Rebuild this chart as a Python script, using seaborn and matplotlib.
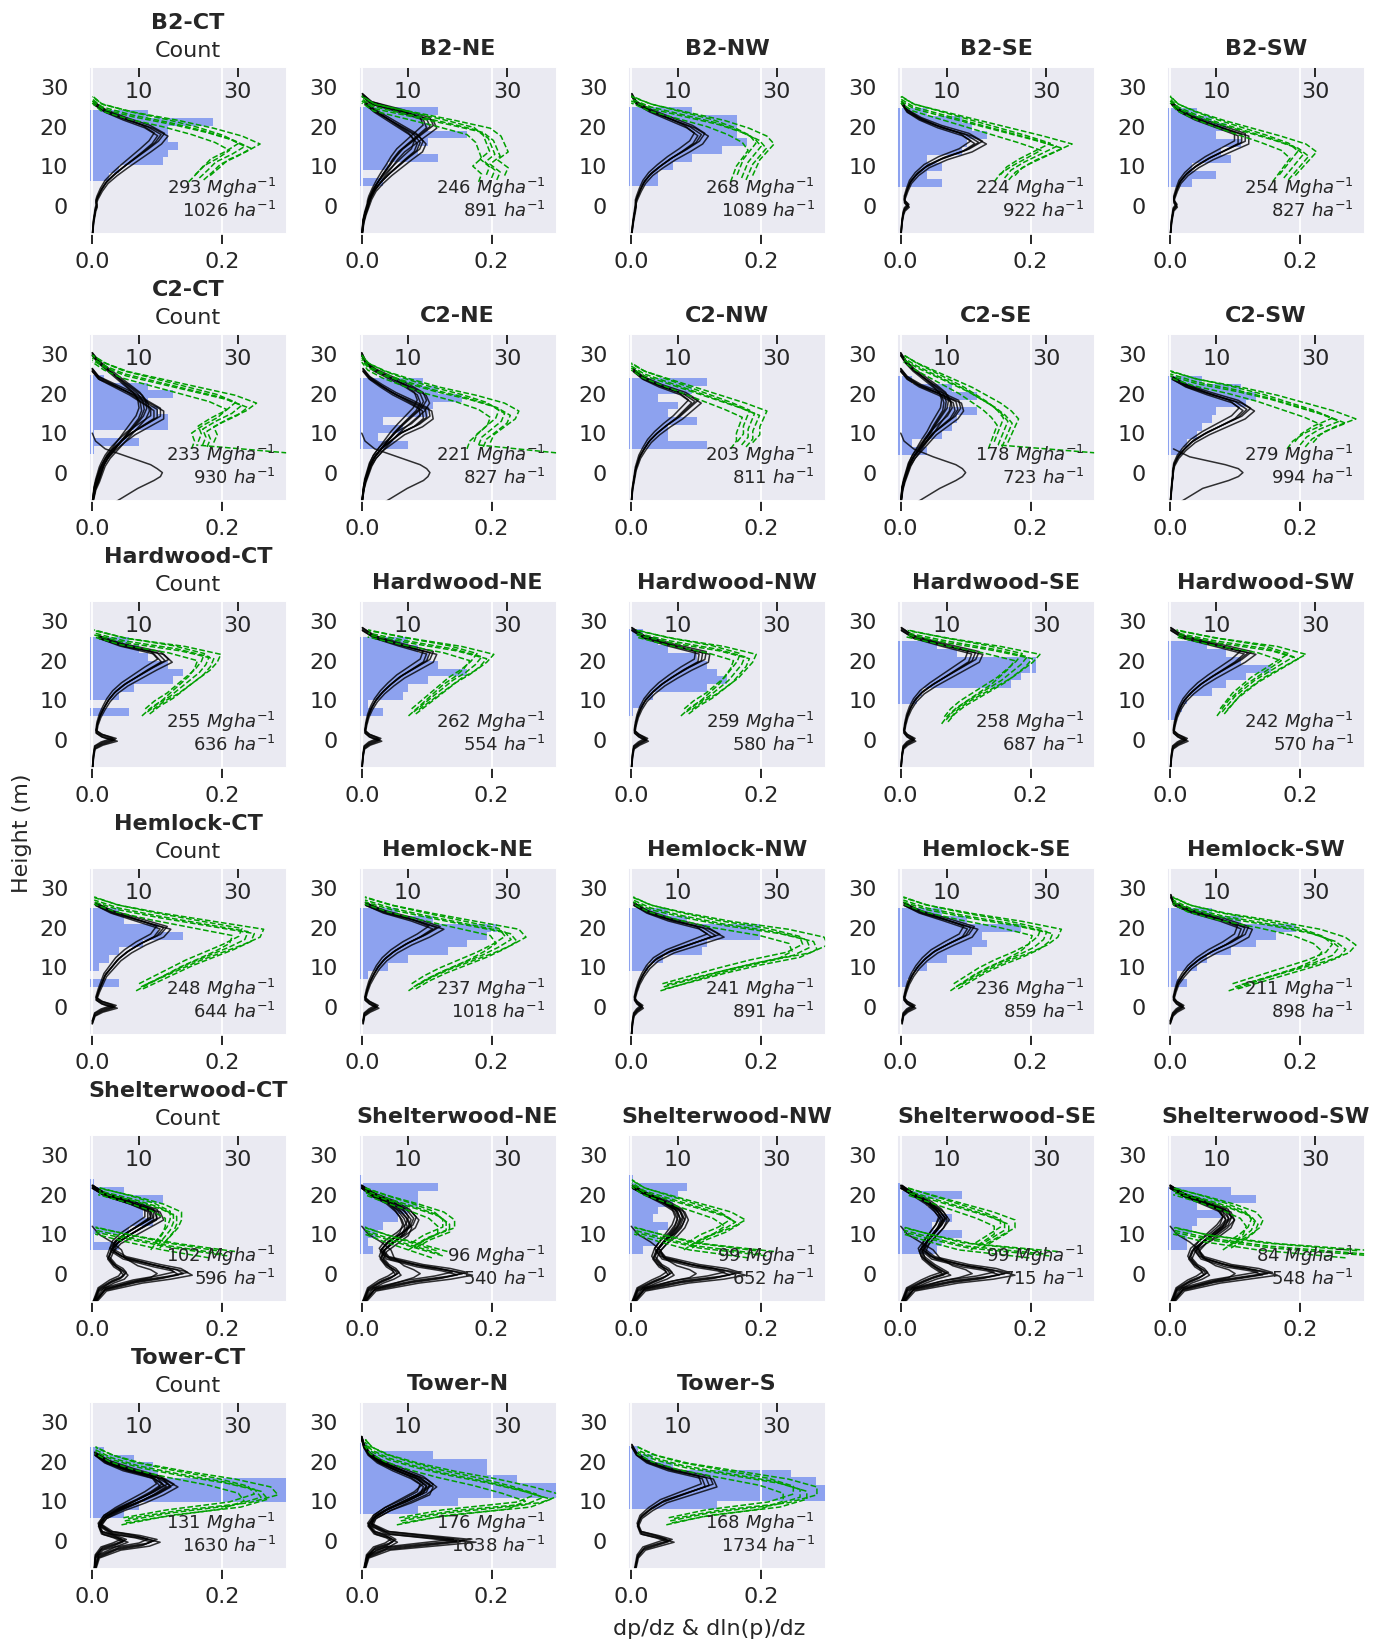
import numpy as np
import pandas as pd
import matplotlib
matplotlib.use('Agg')
import matplotlib.pyplot as plt
import seaborn as sns

N = np.nan

Z_B = [-8, -4, -2, -1, 0, 1, 2, 4, 6, 8, 10, 12, 14, 16, 18, 20, 22, 24, 26, 28, 30]
Z_G = [5, 7, 9, 11, 13, 15, 17, 19, 21, 23, 25, 27, 29]
BIN_W = 2.0
# per-curve scale / height offset for the bundles of plots
VAR_B = [0.9, 0.95, 1.0, 1.05, 1.1]
SHIFT_B = [0.4, -0.3, 0.0, 0.3, -0.4]
VAR_G = [0.9, 0.96, 1.0, 1.04, 1.1]
SHIFT_G = [-1.0, 0.8, 0.0, -0.5, 0.6]

NAMES = [['B2-CT', 'B2-NE', 'B2-NW', 'B2-SE', 'B2-SW'],
         ['C2-CT', 'C2-NE', 'C2-NW', 'C2-SE', 'C2-SW'],
         ['Hardwood-CT', 'Hardwood-NE', 'Hardwood-NW', 'Hardwood-SE', 'Hardwood-SW'],
         ['Hemlock-CT', 'Hemlock-NE', 'Hemlock-NW', 'Hemlock-SE', 'Hemlock-SW'],
         ['Shelterwood-CT', 'Shelterwood-NE', 'Shelterwood-NW', 'Shelterwood-SE', 'Shelterwood-SW'],
         ['Tower-CT', 'Tower-N', 'Tower-S']]

BIOMASS = [[293, 246, 268, 224, 254],
           [233, 221, 203, 178, 279],
           [255, 262, 259, 258, 242],
           [248, 237, 241, 236, 211],
           [102, 96, 99, 99, 84],
           [131, 176, 168]]
DENSITY = [[1026, 891, 1089, 922, 827],
           [930, 827, 811, 723, 994],
           [636, 554, 580, 687, 570],
           [644, 1018, 891, 859, 898],
           [596, 540, 652, 715, 548],
           [1630, 1638, 1734]]

# ---- tree height histograms (count per 2 m bin, from the bottom edge up)
B2_HIST_BOTTOM = [6.2, 5.0, 5.0, 4.8, 4.8]
B2_HIST = [[4, 6, 15, 16, 18, 16, 16, 25, 12],
           [5, 1, 6, 16, 12, 14, 22, 14, 13, 16],
           [6, 6, 9, 13, 19, 24, 22, 22, 22, 13],
           [9, 6, 9, 6, 13, 14, 18, 15, 13, 6],
           [5, 10, 5, 13, 11, 15, 10, 12, 9, 6]]
C2_HIST_BOTTOM = [4.8, 6.0, 6.0, 4.5, 4.5]
C2_HIST = [[1, 10, 1, 16, 16, 14, 12, 17, 12, 3],
           [10, 4, 9, 5, 14, 15, 21, 16, 13],
           [16, 8, 8, 14, 8, 10, 6, 13, 16],
           [6, 3, 9, 11, 12, 16, 10, 16, 11, 3],
           [3, 4, 6, 7, 9, 10, 16, 18, 15, 7]]
HW_HIST_BOTTOM = [6, 6, 6, 9, 5]
HW_HIST = [[8, 0, 6, 9, 17, 19, 16, 12, 10, 8],
           [5, 2, 9, 10, 14, 22, 16, 14, 12, 10],
           [1, 3, 5, 16, 20, 18, 16, 14, 8, 6, 3],
           [4, 5, 23, 25, 28, 28, 12, 8],
           [2, 3, 4, 9, 12, 16, 21, 15, 12, 8]]
HM_HIST_BOTTOM = [5, 7, 9, 5, 5]
HM_HIST = [[6, 0, 2, 4, 6, 11, 19, 14, 7, 6],
           [2, 6, 10, 18, 22, 26, 28, 15, 8],
           [4, 7, 15, 16, 27, 27, 12, 8],
           [2, 3, 6, 10, 15, 18, 17, 25, 14, 9],
           [4, 2, 6, 8, 13, 18, 22, 26, 15, 9]]
SH_HIST_BOTTOM = [6, 5, 5, 5, 6]
SH_HIST = [[6, 1, 8, 13, 11, 12, 15, 7, 1],
           [3, 2, 4, 5, 8, 10, 12, 12, 16, 1],
           [3, 6, 6, 8, 5, 6, 9, 10, 12, 1],
           [8, 9, 13, 7, 11, 8, 6, 13, 1],
           [4, 4, 5, 6, 11, 6, 18, 13]]
TW_HIST_BOTTOM = [5.8, 6.7, 8.0]
TW_HIST = [[7, 10, 45, 45, 45, 14, 13, 9, 3],
           [12, 20, 45, 45, 32, 26, 26, 15, 2],
           [18, 45, 45, 38, 33, 9, 5, 2]]

# ---- dp/dz profiles (black, values at Z_B), one or more per panel
B2_BLACK = [
    [[0, .002, .004, .005, .007, .006, .008, .014, .022, .035, .05, .066, .082, .097, .106, .085, .05, .02, .002, N, N]],
    [[0, .002, .005, .007, .009, .01, .012, .018, .025, .033, .042, .05, .06, .075, .09, .105, .1, .06, .015, .001, N],
     [0, .003, .006, .008, .01, .012, .014, .02, .03, .042, .056, .07, .085, .09, .08, .06, .04, .02, .005, N, N]],
    [[0, .003, .005, .006, .007, .007, .009, .014, .02, .03, .045, .062, .082, .1, .108, .09, .06, .03, .008, .001, N]],
    [[0, .002, .004, .006, .012, .006, .006, .01, .015, .025, .04, .065, .1, .12, .1, .06, .03, .01, .002, N, N]],
    [[0, .002, .004, .005, .01, .006, .006, .01, .015, .025, .04, .06, .085, .11, .11, .075, .04, .015, .002, N, N]]]
C2_BLACK = [
    [[0, .005, .01, .012, .014, .016, .018, .025, .035, .045, .055, .065, .075, .08, .078, .07, .055, .04, .025, .01, 0],
     [0, .003, .006, .008, .01, .012, .015, .022, .032, .045, .06, .08, .1, .1, .08, .06, .035, .01, 0, N, N]],
    [[0, .003, .006, .008, .01, .012, .014, .02, .03, .04, .05, .062, .075, .088, .095, .09, .07, .045, .02, .006, 0],
     [0, .003, .005, .007, .009, .011, .013, .02, .03, .045, .06, .085, .1, .098, .075, .05, .03, .012, .002, N, N]],
    [[0, .002, .004, .005, .006, .007, .009, .013, .02, .028, .04, .055, .072, .085, .098, .08, .045, .018, .003, N, N]],
    [[0, .003, .006, .008, .01, .012, .014, .02, .028, .036, .045, .052, .06, .068, .07, .066, .052, .036, .02, .008, 0],
     [0, .002, .005, .007, .009, .011, .013, .02, .03, .04, .05, .065, .08, .088, .085, .06, .03, .01, 0, N, N]],
    [[0, .002, .003, .004, .004, .005, .006, .012, .022, .035, .055, .08, .105, .118, .1, .06, .025, .003, N, N, N]]]
HW_BLACK = [
    [[0, .002, .004, .015, .035, .015, .006, .008, .012, .018, .025, .035, .05, .07, .09, .112, .1, .045, .01, N, N]],
    [[0, .002, .004, .012, .028, .012, .005, .007, .01, .015, .022, .032, .045, .06, .08, .1, .105, .06, .02, .001, N]],
    [[0, .002, .004, .012, .024, .012, .005, .007, .01, .015, .022, .033, .047, .065, .085, .108, .11, .06, .02, .001, N]],
    [[0, .002, .004, .01, .021, .01, .005, .007, .01, .015, .022, .033, .05, .07, .09, .11, .115, .065, .02, .001, N]],
    [[0, .002, .004, .012, .025, .012, .005, .007, .01, .015, .022, .033, .047, .065, .085, .105, .12, .07, .02, .001, N]]]
HM_BLACK = [
    [[N, 0, .004, .015, .035, .015, .006, .01, .015, .02, .03, .04, .055, .075, .1, .11, .07, .03, .005, N, N]],
    [[N, .002, .004, .012, .024, .012, .005, .008, .012, .018, .025, .035, .05, .07, .095, .115, .08, .035, .006, N, N]],
    [[0, .002, .004, .009, .017, .009, .005, .008, .012, .018, .026, .038, .06, .095, .13, .11, .06, .025, .004, N, N]],
    [[N, .002, .004, .01, .021, .01, .005, .008, .012, .018, .026, .037, .052, .075, .1, .108, .07, .03, .005, N, N]],
    [[N, 0, .004, .01, .02, .01, .005, .008, .012, .02, .03, .045, .065, .09, .11, .115, .08, .035, .006, .001, N]]]
SH_BLACK = [
    [[0, .02, .07, .11, .14, .13, .1, .05, .03, .035, .05, .07, .09, .09, .06, .02, .001, N, N, N, N],
     [0, .01, .03, .045, .05, .045, .035, .025, .03, .04, .06, .08, .1, .095, .06, .02, 0, N, N, N, N]],
    [[0, .02, .08, .125, .155, .13, .09, .04, .03, .04, .06, .075, .08, .07, .05, .02, 0, N, N, N, N],
     [0, .01, .03, .045, .055, .05, .04, .03, .035, .05, .065, .07, .065, .055, .04, .015, 0, N, N, N, N]],
    [[0, .02, .08, .13, .16, .14, .1, .05, .04, .05, .065, .075, .08, .075, .055, .025, .002, N, N, N, N],
     [0, .01, .035, .05, .06, .055, .045, .035, .04, .05, .06, .07, .075, .07, .05, .025, .002, N, N, N, N]],
    [[0, .02, .08, .13, .16, .14, .1, .05, .035, .04, .05, .06, .068, .06, .045, .02, .002, N, N, N, N],
     [0, .01, .035, .05, .07, .06, .05, .035, .03, .04, .05, .06, .065, .055, .04, .02, 0, N, N, N, N]],
    [[0, .02, .07, .11, .15, .13, .09, .05, .04, .05, .07, .085, .09, .08, .05, .02, 0, N, N, N, N],
     [0, .01, .03, .045, .055, .05, .04, .03, .035, .05, .065, .08, .09, .085, .055, .02, 0, N, N, N, N]]]
TW_BLACK = [
    [[.003, .005, .015, .035, .05, .035, .015, .01, .02, .04, .065, .09, .11, .1, .06, .025, .005, N, N, N, N],
     [.003, .01, .04, .08, .095, .07, .03, .012, .02, .045, .075, .1, .12, .1, .05, .02, .004, N, N, N, N]],
    [[.003, .01, .04, .1, .16, .1, .04, .015, .02, .04, .07, .095, .1, .08, .05, .025, .01, .003, 0, N, N],
     [.003, .008, .02, .04, .05, .04, .02, .01, .02, .04, .065, .09, .105, .09, .06, .03, .012, .004, 0, N, N]],
    [[.005, .01, .02, .04, .06, .04, .015, .01, .015, .03, .05, .085, .12, .115, .06, .025, .008, .001, N, N, N]]]

# single black curves with the ground peak (C2 plots, shelterwood low canopy)
C2_BLACK_ONE = [
    [[.03, .07, .095, .105, .108, .1, .09, .055, .02, .005, 0, N, N, N, N, N, N, N, N, N, N]],
    [[.03, .07, .095, .102, .105, .1, .09, .055, .02, .005, 0, N, N, N, N, N, N, N, N, N, N]],
    [],
    [[.02, .06, .085, .095, .1, .095, .085, .05, .02, .005, 0, N, N, N, N, N, N, N, N, N, N]],
    [[.01, .05, .09, .105, .112, .105, .085, .03, .005, N, N, N, N, N, N, N, N, N, N, N, N]]]
SH_BLACK_ONE = [
    [[0, .02, .06, .09, .1, .09, .07, .05, .045, .03, .01, 0, N, N, N, N, N, N, N, N, N]],
    [[0, .02, .06, .08, .09, .08, .065, .05, .045, .03, .01, 0, N, N, N, N, N, N, N, N, N]],
    [[0, .02, .06, .09, .1, .09, .07, .05, .045, .03, .01, 0, N, N, N, N, N, N, N, N, N]],
    [[0, .02, .06, .09, .11, .1, .08, .06, .05, .03, .01, 0, N, N, N, N, N, N, N, N, N]],
    [[0, .02, .06, .09, .1, .09, .07, .05, .045, .03, .01, 0, N, N, N, N, N, N, N, N, N]]]

# ---- dln(p)/dz profiles (green dashed, values at Z_G)
B2_GREEN = [
    [[N, .165, .178, .19, .215, .235, .21, .17, .12, .06, .015, 0, N]],
    [[N, .2, .205, .19, .205, .2, .195, .18, .13, .075, .02, 0, N]],
    [[N, .17, .175, .18, .19, .2, .19, .165, .13, .08, .03, 0, N]],
    [[N, .16, .17, .19, .215, .24, .2, .155, .11, .065, .02, 0, N]],
    [[N, .175, .185, .195, .205, .19, .155, .115, .075, .04, .012, 0, N]]]
C2_GREEN = [
    [[N, .17, .175, .17, .19, .215, .23, .2, .15, .1, .05, .02, 0]],
    [[N, .18, .185, .2, .215, .22, .2, .16, .11, .07, .035, .01, 0]],
    [[N, .17, .18, .18, .185, .19, .16, .125, .09, .055, .02, 0, N]],
    [[N, .15, .155, .16, .165, .155, .14, .12, .1, .075, .05, .025, .005]],
    [[N, .2, .21, .23, .26, .23, .19, .15, .1, .04, 0, N, N]]]
HW_GREEN = [
    [[N, .085, .1, .12, .135, .15, .165, .175, .18, .13, .05, .003, N]],
    [[N, .08, .095, .11, .125, .14, .16, .175, .185, .14, .07, .01, N]],
    [[N, .085, .1, .12, .135, .15, .16, .17, .175, .13, .06, .008, N]],
    [[.07, .08, .095, .115, .135, .155, .17, .185, .195, .14, .07, .01, N]],
    [[N, .08, .09, .1, .115, .13, .15, .17, .19, .15, .07, .01, N]]]
HM_GREEN = [
    [[.075, .1, .125, .15, .18, .21, .235, .24, .17, .1, .04, .003, N]],
    [[.08, .1, .125, .155, .185, .21, .23, .22, .16, .1, .045, .005, N]],
    [[.05, .095, .14, .19, .25, .275, .27, .22, .14, .08, .03, .003, N]],
    [[.085, .105, .125, .15, .18, .205, .22, .225, .17, .1, .04, .004, N]],
    [[.1, .14, .18, .22, .25, .26, .245, .21, .15, .08, .03, .004, N]]]
SH_GREEN = [
    [[N, .1, .11, .12, .125, .125, .1, .06, .01, N, N, N, N],
     [.2, .12, .06, .005, N, N, N, N, N, N, N, N, N]],
    [[N, .08, .1, .13, .13, .115, .08, .04, .005, N, N, N, N],
     [.12, .08, .04, .005, N, N, N, N, N, N, N, N, N]],
    [[N, .09, .11, .14, .16, .14, .1, .06, .02, .001, N, N, N],
     [.2, .1, .05, .005, N, N, N, N, N, N, N, N, N]],
    [[N, .12, .14, .16, .16, .13, .09, .05, .01, N, N, N, N],
     [.22, .1, .05, .005, N, N, N, N, N, N, N, N, N]],
    [[N, .09, .11, .125, .13, .12, .09, .05, .005, N, N, N, N],
     [.3, .15, .06, .005, N, N, N, N, N, N, N, N, N]]]
TW_GREEN = [
    [[.05, .12, .22, .26, .25, .2, .13, .07, .03, .005, N, N, N]],
    [[.06, .13, .25, .28, .24, .19, .13, .08, .04, .015, .005, N, N]],
    [[.06, .12, .22, .26, .26, .22, .15, .08, .035, .01, N, N, N]]]
# single green tails running out of the plot at the lowest heights
C2_GREEN_ONE = [
    [[.3, .16, N, N, N, N, N, N, N, N, N, N, N]],
    [[.3, .18, N, N, N, N, N, N, N, N, N, N, N]],
    [],
    [[.3, .15, N, N, N, N, N, N, N, N, N, N, N]],
    []]

HIST_BOTTOM = [B2_HIST_BOTTOM, C2_HIST_BOTTOM, HW_HIST_BOTTOM, HM_HIST_BOTTOM, SH_HIST_BOTTOM, TW_HIST_BOTTOM]
HIST = [B2_HIST, C2_HIST, HW_HIST, HM_HIST, SH_HIST, TW_HIST]
BLACK = [B2_BLACK, C2_BLACK, HW_BLACK, HM_BLACK, SH_BLACK, TW_BLACK]
BLACK_ONE = [None, C2_BLACK_ONE, None, None, SH_BLACK_ONE, None]
GREEN = [B2_GREEN, C2_GREEN, HW_GREEN, HM_GREEN, SH_GREEN, TW_GREEN]
GREEN_ONE = [None, C2_GREEN_ONE, None, None, None, None]

BAR_COLOR = '#8DA2EF'
GREEN_COLOR = '#00A000'


def frame(profiles, zs, var, shift):
    rows = []
    k = 0
    for prof in profiles:
        for s, dz in zip(var, shift):
            for z, v in zip(zs, prof):
                if not np.isnan(v):
                    rows.append((k, z + dz, v * s))
            k += 1
    return pd.DataFrame(rows, columns=['curve', 'z', 'v'])


sns.set_theme(style='darkgrid')
plt.rcParams['font.family'] = ['DejaVu Sans']

fig, axes = plt.subplots(6, 5, figsize=(13.91, 16.43), dpi=100)
fig.subplots_adjust(left=0.064, right=0.9813, top=0.9592, bottom=0.045,
                    wspace=0.361, hspace=0.599)

for r in range(6):
    for c in range(5):
        ax = axes[r, c]
        if c >= len(NAMES[r]):
            fig.delaxes(ax)
            continue
        hx = ax.twiny()
        ax.set_zorder(hx.get_zorder() + 1)
        ax.patch.set_visible(False)
        hx.patch.set_visible(True)
        hx.set_facecolor('#EAEAF2')

        counts = HIST[r][c]
        lo = HIST_BOTTOM[r][c]
        hx.barh([lo + BIN_W * i for i in range(len(counts))], counts, height=BIN_W,
                align='edge', color=BAR_COLOR, linewidth=0)

        blk = frame(BLACK[r][c], Z_B, VAR_B, SHIFT_B)
        if BLACK_ONE[r] is not None:
            one = frame(BLACK_ONE[r][c], Z_B, [1.0], [0.0])
            blk = pd.concat([blk, one.assign(curve=one.curve + 100)])
        sns.lineplot(data=blk, x='v', y='z', units='curve', estimator=None, orient='y',
                     color='black', linewidth=1.1, alpha=0.8, ax=ax, legend=False)
        grn = frame(GREEN[r][c], Z_G, VAR_G, SHIFT_G)
        if GREEN_ONE[r] is not None:
            one = frame(GREEN_ONE[r][c], Z_G, [1.0], [0.0])
            grn = pd.concat([grn, one.assign(curve=one.curve + 100)])
        sns.lineplot(data=grn, x='v', y='z', units='curve', estimator=None, orient='y',
                     color=GREEN_COLOR, linewidth=1.1, linestyle='--', ax=ax, legend=False)

        ax.set_xlabel('')
        ax.set_ylabel('')
        ax.set_xlim(-0.005, 0.3)
        ax.set_ylim(-7.2, 35.1)
        ax.set_xticks([0.0, 0.2])
        ax.set_xticklabels(['0.0', '0.2'])
        ax.set_yticks([0, 10, 20, 30])
        ax.tick_params(axis='x', bottom=True, length=7, width=1.4, pad=6, labelsize=16, color='.15')
        ax.tick_params(axis='y', left=False, length=0, pad=15, labelsize=16)
        ax.xaxis.grid(True, color='white', linewidth=1.3)
        ax.yaxis.grid(False)

        hx.set_xlim(0, 40)
        hx.set_xticks([10, 30])
        hx.tick_params(axis='x', top=True, direction='in', length=7, width=1.4, pad=-25,
                       labelsize=16, color='.15')
        hx.grid(False)
        if c == 0:
            hx.set_xlabel('Count', fontsize=16, labelpad=7)
        ax.set_title(NAMES[r][c], fontsize=16, fontweight='bold', pad=9)

        ax.text(0.945, 0.275, f'{BIOMASS[r][c]} $Mgha^{{-1}}$', transform=ax.transAxes,
                ha='right', va='center', fontsize=13, color='.15')
        ax.text(0.945, 0.14, f'{DENSITY[r][c]} $ha^{{-1}}$', transform=ax.transAxes,
                ha='right', va='center', fontsize=13, color='.15')

fig.text(0.016, 0.493, 'Height (m)', rotation=90, ha='center', va='center', fontsize=16)
fig.text(0.51, 0.0085, 'dp/dz & dln(p)/dz', ha='center', va='center', fontsize=16)

fig.savefig('out.png', dpi=100)
